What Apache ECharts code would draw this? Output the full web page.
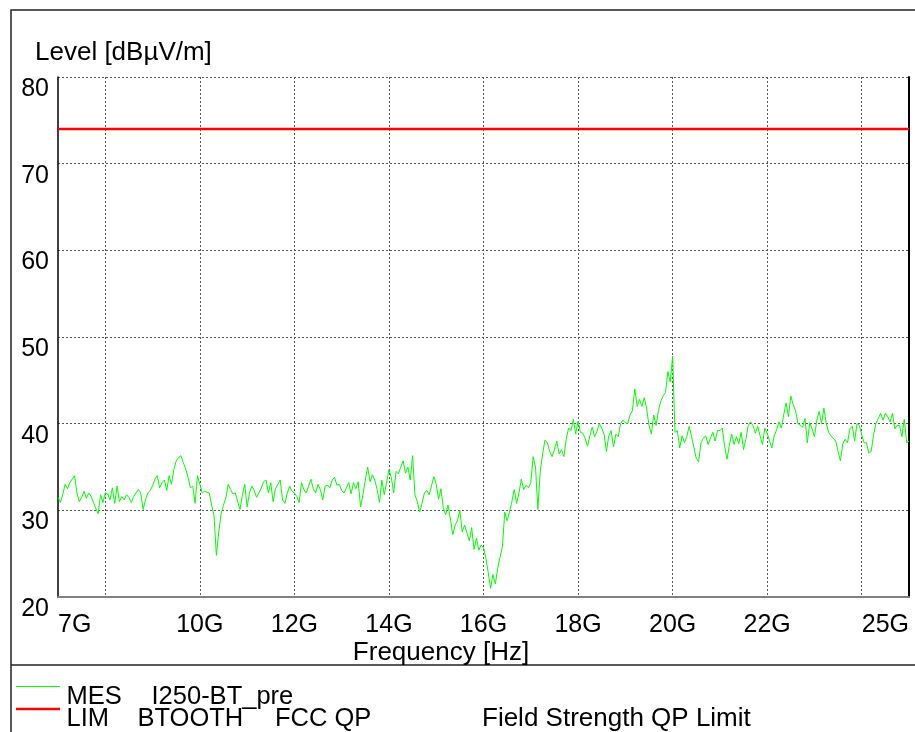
<!DOCTYPE html>
<html>
<head>
<meta charset="utf-8">
<script src="https://cdn.jsdelivr.net/npm/echarts@6/dist/echarts.min.js"></script>
<style>
html,body{margin:0;padding:0;background:#fff;}
#chart{width:915px;height:732px;}
</style>
</head>
<body>
<div id="chart"></div>
<script>
// ---- data ----
const startGHz = 7;
const stopGHz = 25;
// MES I250-BT_pre trace, one reading every 0.05 GHz from 7 GHz to 25 GHz (dBµV/m)
const mesLevels = [
  31.5, 30.9, 31.8, 33.0, 32.5, 33.2, 33.6, 34.0, 32.0, 31.0, 31.5, 32.2, 31.4, 32.0, 31.6, 30.9, 30.2, 29.6, 31.8, 30.9,
  32.0, 31.9, 31.2, 32.6, 30.8, 32.8, 31.0, 31.6, 31.2, 31.8, 31.5, 30.9, 31.6, 32.0, 32.4, 32.0, 30.1, 31.2, 32.0, 32.3,
  32.8, 33.6, 34.0, 32.6, 33.2, 33.5, 32.3, 34.0, 33.0, 34.7, 35.7, 36.1, 36.3, 35.5, 34.8, 33.8, 32.6, 32.8, 30.8, 34.0,
  33.0, 32.0, 32.2, 32.1, 32.0, 30.6, 29.4, 24.8, 27.5, 29.6, 30.6, 31.4, 33.0, 32.4, 31.9, 32.0, 31.0, 30.1, 31.8, 33.0,
  30.4, 32.0, 32.8, 32.3, 31.5, 32.0, 32.6, 33.3, 33.5, 32.0, 33.2, 31.0, 32.5, 33.0, 33.5, 31.2, 30.8, 32.0, 32.8, 32.2,
  32.0, 31.6, 30.9, 33.2, 32.4, 32.0, 32.8, 33.6, 32.5, 32.0, 33.0, 32.4, 31.2, 32.8, 32.9, 32.6, 33.5, 33.8, 32.9, 33.0,
  32.3, 32.0, 32.6, 33.2, 31.9, 33.2, 32.5, 33.3, 30.4, 31.8, 33.5, 35.0, 33.3, 34.1, 33.5, 32.4, 30.9, 33.5, 31.8, 33.2,
  34.7, 33.8, 32.0, 34.5, 34.2, 35.0, 35.7, 34.3, 35.0, 33.5, 36.3, 31.8, 31.0, 29.8, 30.8, 32.0, 32.3, 31.8, 32.8, 33.9,
  33.0, 31.3, 32.5, 30.3, 29.5, 30.6, 29.0, 27.2, 28.3, 28.8, 30.0, 27.5, 28.3, 27.4, 26.5, 28.0, 25.5, 26.8, 25.4, 26.0,
  25.7, 24.5, 22.8, 21.0, 22.6, 21.5, 23.3, 24.6, 25.8, 29.8, 28.8, 29.8, 31.0, 32.4, 30.8, 32.0, 33.6, 32.4, 32.9, 32.6,
  33.2, 36.2, 35.0, 30.1, 34.5, 36.5, 38.1, 37.8, 36.8, 36.2, 37.0, 38.0, 36.5, 37.0, 36.2, 38.2, 39.5, 39.2, 40.5, 38.8,
  40.3, 39.0, 38.9, 38.3, 37.4, 38.6, 39.6, 38.5, 39.1, 40.0, 39.5, 38.8, 36.8, 38.6, 39.2, 37.3, 38.8, 38.5, 40.0, 40.4,
  40.1, 40.0, 41.0, 41.5, 44.0, 42.0, 42.8, 42.0, 43.0, 41.8, 39.8, 38.8, 41.0, 39.8, 41.5, 42.6, 43.2, 43.6, 46.0, 44.8,
  47.8, 39.0, 39.2, 37.2, 38.6, 37.8, 38.5, 39.7, 38.5, 37.3, 36.0, 35.6, 37.8, 38.3, 38.6, 37.6, 38.3, 39.0, 38.0, 39.2,
  39.2, 39.5, 37.4, 35.9, 37.5, 38.8, 37.6, 38.5, 37.7, 39.0, 37.0, 38.2, 39.8, 40.2, 39.8, 38.9, 39.7, 38.6, 37.6, 39.5,
  38.9, 38.0, 37.2, 38.6, 39.3, 40.2, 39.5, 41.0, 42.4, 40.8, 43.2, 42.2, 41.5, 40.0, 39.8, 39.6, 40.6, 37.8, 40.1, 39.4,
  38.5, 40.4, 41.4, 40.0, 41.8, 40.0, 39.0, 38.6, 38.3, 38.0, 36.8, 35.7, 37.7, 38.2, 37.8, 39.4, 39.7, 38.0, 40.0, 39.8,
  38.7, 37.8, 37.8, 36.6, 36.8, 38.7, 40.0, 40.6, 41.2, 40.4, 41.2, 40.8, 40.2, 41.2, 39.4, 39.8, 39.8, 38.5, 40.5, 37.8, 38.0
];
// LIM BTOOTH FCC QP limit line
const limitFreqs = [7, 25];
const limitLevels = [74, 74];
// axis ticks
const yMin = 20, yMax = 80, yStep = 10;
const xLabelValues = [7, 10, 12, 14, 16, 18, 20, 22, 25];
const xLabelTexts = ['7G', '10G', '12G', '14G', '16G', '18G', '20G', '22G', '25G'];
// texts
const yAxisTitle = 'Level [dBµV/m]';
const xAxisTitle = 'Frequency [Hz]';
const legendRow1 = ['MES', 'I250-BT_pre'];
const legendRow2 = ['LIM', 'BTOOTH', 'FCC QP', 'Field Strength QP Limit'];

// ---- build ----
const FONT = '"Liberation Sans", Arial, Helvetica, sans-serif';
const step = (stopGHz - startGHz) / (mesLevels.length - 1);
const mesData = mesLevels.map((v, i) => [startGHz + i * step, v]);
const limData = limitFreqs.map((f, i) => [f, limitLevels[i]]);
const labelMap = {};
xLabelValues.forEach((v, i) => { labelMap[v] = xLabelTexts[i]; });

const chart = echarts.init(document.getElementById('chart'), null, {renderer: 'canvas'});
const txt = (text, x, y, align, size) => ({
  type: 'text', x: x, y: y, z: 100,
  style: {text: text, font: (size || 26) + 'px ' + FONT, fill: '#000', textAlign: align || 'left', textVerticalAlign: 'middle'}
});
chart.setOption({
  animation: false,
  backgroundColor: '#fff',
  grid: {left: 58, top: 77, right: 6, bottom: 135, containLabel: false},
  xAxis: {
    type: 'value', min: startGHz, max: stopGHz, interval: 1,
    axisLine: {show: true, onZero: false, lineStyle: {color: '#808080', width: 2}},
    axisTick: {show: false},
    splitLine: {show: true, lineStyle: {color: ['rgba(0,0,0,0)', '#555'], width: 1, type: [2, 2]}},
    axisLabel: {
      show: true, color: '#000', fontSize: 25, fontFamily: FONT, margin: 16,
      showMinLabel: true, showMaxLabel: true,
      alignMinLabel: 'left', alignMaxLabel: 'right',
      formatter: v => labelMap[Math.round(v * 1000) / 1000] || ''
    }
  },
  yAxis: [{
    type: 'value', min: yMin, max: yMax, interval: yStep, position: 'left',
    axisLine: {show: true, lineStyle: {color: '#000', width: 1.5}},
    axisTick: {show: false},
    splitLine: {show: true, showMinLine: false, lineStyle: {color: '#555', width: 1, type: [2, 2]}},
    axisLabel: {color: '#000', fontSize: 25, fontFamily: FONT, margin: 9, verticalAlign: 'top', lineHeight: 24}
  }, {
    type: 'value', min: yMin, max: yMax, interval: yStep, position: 'right',
    axisLine: {show: true, lineStyle: {color: '#000', width: 2}},
    axisTick: {show: false}, axisLabel: {show: false}, splitLine: {show: false}
  }],
  series: [{
    name: 'MES', type: 'line', data: mesData, symbol: 'none', showSymbol: false,
    lineStyle: {color: '#00ff00', width: 1}, z: 3
  }, {
    name: 'LIM', type: 'line', data: limData, symbol: 'none', showSymbol: false,
    lineStyle: {color: '#ff0000', width: 2.5}, z: 4
  }],
  graphic: [
    {type: 'polyline', z: 100, shape: {points: [[11, 732], [11, 10], [915, 10]]}, style: {stroke: '#222', lineWidth: 1.5, fill: null}},
    {type: 'line', z: 100, shape: {x1: 11, y1: 665, x2: 915, y2: 665}, style: {stroke: '#222', lineWidth: 1.5}},
    txt(yAxisTitle, 35, 53),
    txt(xAxisTitle, 441, 653, 'center'),
    {type: 'line', z: 100, shape: {x1: 16, y1: 686.5, x2: 60, y2: 686.5}, style: {stroke: '#00ff00', lineWidth: 1}},
    {type: 'line', z: 100, shape: {x1: 16, y1: 709, x2: 60, y2: 709}, style: {stroke: '#ff0000', lineWidth: 2.5}},
    txt(legendRow1[0], 66.5, 697, 'left', 25.5),
    txt(legendRow1[1], 151.5, 697, 'left', 25.5),
    txt(legendRow2[0], 66.5, 719, 'left', 25.5),
    txt(legendRow2[1], 137.5, 719, 'left', 25.5),
    txt(legendRow2[2], 275, 719, 'left', 25.5),
    txt(legendRow2[3], 482, 719)
  ]
});
</script>
</body>
</html>
